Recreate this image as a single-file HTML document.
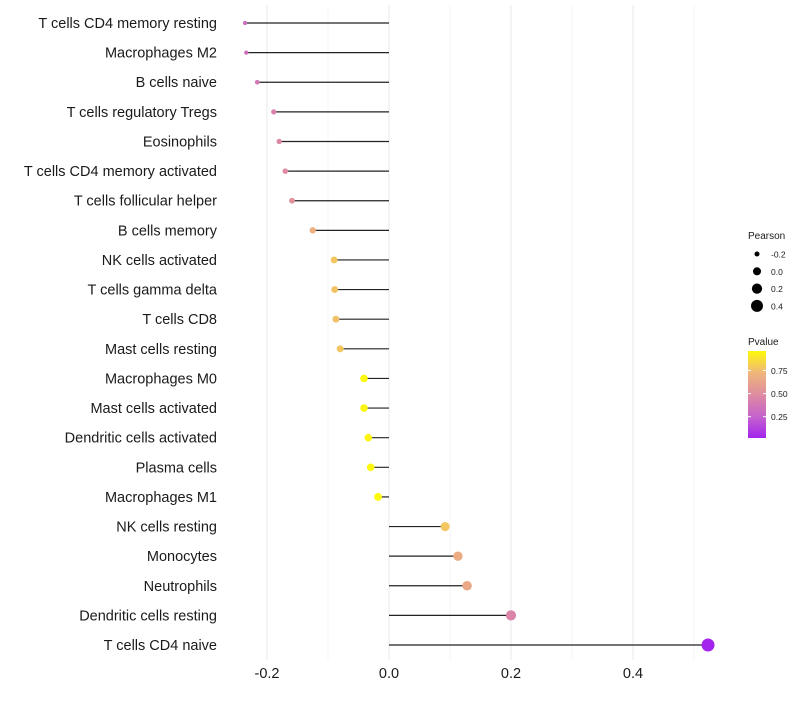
<!DOCTYPE html>
<html><head><meta charset="utf-8"><style>
body{margin:0;background:#fff;font-family:"Liberation Sans",sans-serif;}
svg text{font-family:"Liberation Sans",sans-serif;}
</style></head><body>
<svg id="chart" width="800" height="700" xmlns="http://www.w3.org/2000/svg">
<g id="grid"></g>
<g id="marks"></g>
<g id="ylabels"></g>
<g id="xlabels"></g>
<g id="legend"></g>
</svg>
<script>
const categories=["T cells CD4 memory resting","Macrophages M2","B cells naive","T cells regulatory  Tregs","Eosinophils","T cells CD4 memory activated","T cells follicular helper","B cells memory","NK cells activated","T cells gamma delta","T cells CD8","Mast cells resting","Macrophages M0","Mast cells activated","Dendritic cells activated","Plasma cells","Macrophages M1","NK cells resting","Monocytes","Neutrophils","Dendritic cells resting","T cells CD4 naive"];
const pearson=[-0.236,-0.234,-0.216,-0.189,-0.180,-0.170,-0.159,-0.125,-0.090,-0.089,-0.087,-0.080,-0.041,-0.041,-0.034,-0.030,-0.018,0.092,0.113,0.128,0.200,0.523];
const pvalue=[0.33,0.34,0.38,0.44,0.47,0.49,0.53,0.70,0.80,0.79,0.78,0.80,0.97,0.97,0.96,0.97,0.99,0.80,0.68,0.66,0.46,0.02];
const xTicks=[-0.2,0,0.2,0.4];
const xMinor=[-0.1,0.1,0.3,0.5];
const sizeLegend=[-0.2,0,0.2,0.4];
const colorTicks=[0.25,0.5,0.75];
const NS="http://www.w3.org/2000/svg";
const x=v=>389+v*610;
const y=i=>23+i*29.62;
const r=v=>Math.sqrt(Math.max(1.5,16.2+49.6*v));
function col(p){
  const stops=[[0,[160,32,240]],[0.25,[196,98,206]],[0.5,[222,140,160]],[0.75,[240,184,120]],[1,[255,255,0]]];
  p=Math.max(0,Math.min(1,p));
  let k=0;while(k<stops.length-2&&p>stops[k+1][0])k++;
  const a=stops[k],b=stops[k+1];
  const t=(p-a[0])/(b[0]-a[0]);
  const c=a[1].map((v,j)=>Math.round(v+(b[1][j]-v)*t));
  return `rgb(${c.join(',')})`;
}
function mk(tag,attrs,parent){const e=document.createElementNS(NS,tag);for(const k in attrs)e.setAttribute(k,attrs[k]);parent.appendChild(e);return e;}
const g=document.getElementById('grid');
xMinor.forEach(v=>{const l=mk('line',{x1:x(v),x2:x(v),y1:5,y2:660,stroke:'#f4f4f4','stroke-width':0.8},g);

});
xTicks.forEach(v=>{const l=mk('line',{x1:x(v),x2:x(v),y1:5,y2:660,stroke:'#ececec','stroke-width':1.1},g);

});
const m=document.getElementById('marks');
const yl=document.getElementById('ylabels');
categories.forEach((c,i)=>{
  const l=mk('line',{x1:x(0),x2:x(pearson[i]),y1:y(i),y2:y(i),stroke:'#222','stroke-width':1.2},m);
  
  
  const p=mk('circle',{cx:x(pearson[i]),cy:y(i),r:r(pearson[i]),fill:col(pvalue[i])},m);
  
  
  const t=mk('text',{x:217,y:y(i)+5,'text-anchor':'end','font-size':14.5,fill:'#1a1a1a'},yl);
  t.textContent=c;
  
  
});
const xl=document.getElementById('xlabels');
xTicks.forEach(v=>{const t=mk('text',{x:x(v),y:678,'text-anchor':'middle','font-size':14.5,fill:'#1a1a1a'},xl);
t.textContent=v.toFixed(1);

});
const lg=document.getElementById('legend');
let t=mk('text',{x:748,y:239,'font-size':10,fill:'#1a1a1a'},lg);t.textContent='Pearson';


sizeLegend.forEach((v,i)=>{const cy=254+i*17.3;
 const c=mk('circle',{cx:757,cy:cy,r:r(v),fill:'#000'},lg);
 
 
 const tt=mk('text',{x:771,y:cy+3.5,'font-size':8.5,fill:'#1a1a1a'},lg);tt.textContent=v.toFixed(1);
 
 });
t=mk('text',{x:748,y:345,'font-size':10,fill:'#1a1a1a'},lg);t.textContent='Pvalue';


const defs=mk('defs',{},lg);
const gr=mk('linearGradient',{id:'cg',x1:0,y1:1,x2:0,y2:0},defs);
[0,0.125,0.25,0.375,0.5,0.625,0.75,0.875,1].forEach(s=>mk('stop',{offset:s,'stop-color':col(0.02+s*0.96)},gr));
const cb=mk('rect',{x:748,y:351,width:18,height:87,fill:'url(#cg)'},lg);


const cy=p=>438-(p-0.02)/(0.96-0.02)*87;
colorTicks.forEach(p=>{
 mk('line',{x1:748,x2:751,y1:cy(p),y2:cy(p),stroke:'#fff'},lg);
 mk('line',{x1:763,x2:766,y1:cy(p),y2:cy(p),stroke:'#fff'},lg);
 const tt=mk('text',{x:771,y:cy(p)+3.5,'font-size':8.5,fill:'#1a1a1a'},lg);tt.textContent=p.toFixed(2);
 
 });
</script>
</body></html>
